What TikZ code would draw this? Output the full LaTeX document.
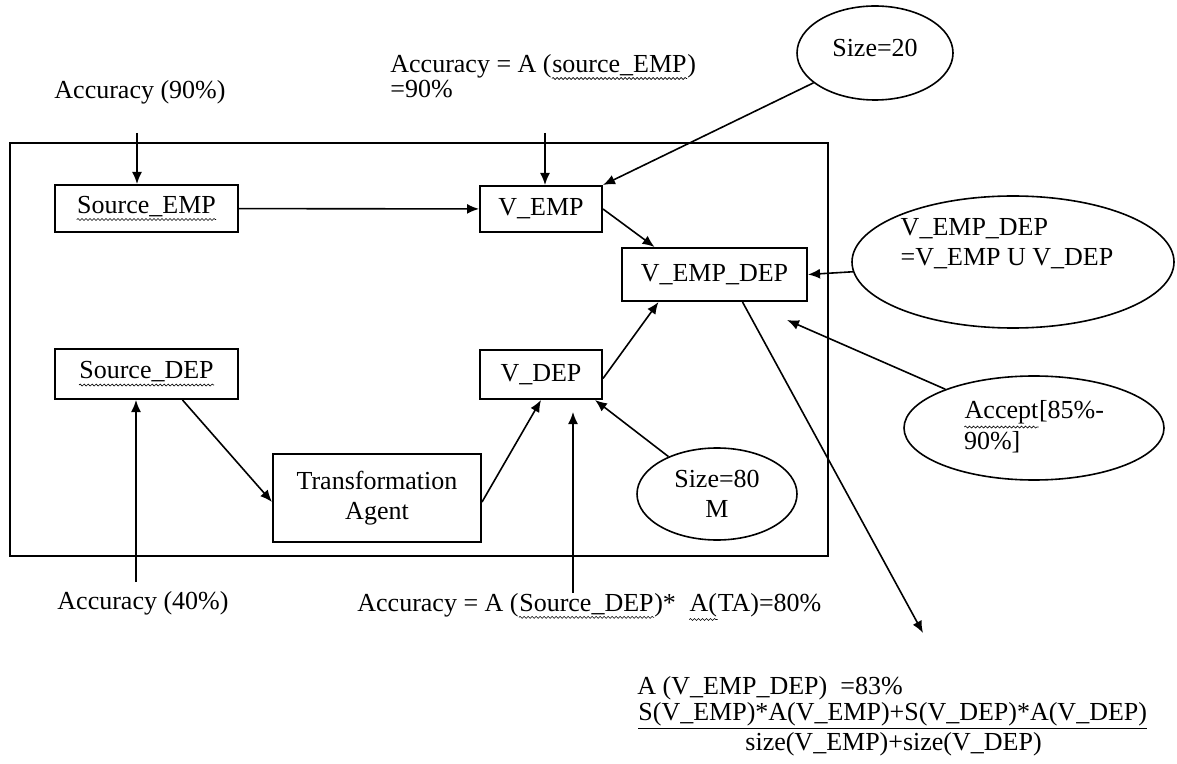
\documentclass[tikz,border=0pt]{standalone}
\usepackage{fontspec}
\setmainfont{Liberation Serif}
\usetikzlibrary{arrows.meta,shapes.geometric,decorations.pathmorphing}

\tikzset{
  txt/.style={inner sep=0pt, font=\fontsize{13}{15}\selectfont},
  box/.style={txt, draw, line width=1pt},
  oval/.style={txt, draw, ellipse, line width=0.8pt},
  arr/.style={-{Latex[length=6pt,width=5pt]}, line width=0.8pt},
}
% spell-check squiggle under a word
\newcommand\squig[1]{\tikz[baseline=(sq.base)]{\node[inner sep=0pt, shape=rectangle, draw=none,
    minimum width=0pt, minimum height=0pt] (sq) {#1};
  \draw[decorate, decoration={snake, amplitude=0.5pt, segment length=2pt}, line width=0.3pt]
    ([yshift=-1.2pt]sq.south west) -- ([yshift=-1.2pt]sq.south east);}}

\begin{document}
\begin{tikzpicture}[x=0.5pt, y=-0.5pt]
    \useasboundingbox (0,0) rectangle (1177,764);

    % Frame
    \draw[line width=1pt] (10,143) rectangle (828,556);

    % Boxes
    \node[box, minimum width=91.5pt, minimum height=23.5pt] (srcemp) at (146.5,208.5) {\squig{Source\_EMP}};
    \node[box, minimum width=61pt, minimum height=23pt] (vemp) at (541,209) {V\_EMP};
    \node[box, minimum width=92.5pt, minimum height=26.5pt] (vempdep) at (714.5,274.5) {V\_EMP\_DEP};
    \node[box, minimum width=91.5pt, minimum height=25pt] (srcdep) at (146.5,374) {\squig{Source\_DEP}};
    \node[box, minimum width=61pt, minimum height=24.5pt] (vdep) at (541,374.5) {V\_DEP};
    \node[box, minimum width=104pt, minimum height=44pt, align=center] (agent) at (377,498) {Transformation\\Agent};

    % Ovals
    \node[oval, minimum width=78pt, minimum height=47pt] (size20) at (875,53) {\raisebox{5pt}{Size=20}};
    \node[oval, minimum width=161pt, minimum height=66pt,
          label={[txt, align=left, xshift=-3pt, yshift=9pt]center:{V\_EMP\_DEP\\=V\_EMP U V\_DEP}}] (unioneq) at (1013,262) {};
    \node[oval, minimum width=80pt, minimum height=46pt, align=center] (size80) at (717,494) {Size=80\\M};
    \node[oval, minimum width=130pt, minimum height=52pt] (accept) at (1034,428)
        {\raisebox{2pt}{\begin{tabular}{@{}l@{}}\squig{Accept}[85\%-\\90\%]\end{tabular}}};

    % Labels
    \node[txt] (acc90) at (140,92) {Accuracy (90\%)};
    \node[txt, anchor=west, align=left, font=\fontsize{13}{12.5}\selectfont] (accemp) at (390,76)
        {Accuracy = A (\squig{source\_EMP})\\=90\%};
    \node[txt] (acc40) at (143,603) {Accuracy (40\%)};
    \node[txt, anchor=west] (accta) at (357,607) {Accuracy = A (\squig{Source\_DEP})*\ \ \squig{A(}TA)=80\%};
    \node[txt, anchor=west] (resa) at (637,688) {A (V\_EMP\_DEP) \ =83\%};
    \node[txt, anchor=west] (resnum) at (638,716) {\underline{S(V\_EMP)*A(V\_EMP)+S(V\_DEP)*A(V\_DEP)}};
    \node[txt, anchor=west] (resden) at (745,744) {size(V\_EMP)+size(V\_DEP)};

    % Free ends
    \coordinate (a90) at (137,133);
    \coordinate (aemp) at (545,133);
    \coordinate (a40) at (136,582);
    \coordinate (ata) at (573,412);
    \coordinate (accepttip) at (787,320);
    \coordinate (restip) at (923,633);

    % Arrows
    \draw[arr] (a90) -- (srcemp.north -| a90);
    \draw[arr] (aemp) -- (vemp.north -| aemp);
    \draw[arr] (srcemp) -- (vemp);
    \draw[arr] (size20) -- (vemp.north east);
    \draw[arr] (vemp.east) -- ([xshift=-30pt]vempdep.north);
    \draw[arr] (unioneq) -- (vempdep.east);
    \draw[arr] (a40) -- (srcdep.south -| a40);
    \draw[arr] ([xshift=18pt]srcdep.south) -- ([yshift=-2pt]agent.west);
    \draw[arr] ([yshift=-2pt]agent.east) -- (vdep.south);
    \draw[arr] (accta.north -| ata) -- (ata);
    \draw[arr] (size80) -- ([xshift=-4pt]vdep.south east);
    \draw[arr] ([yshift=-2pt]vdep.east) -- ([xshift=-28pt]vempdep.south);
    \draw[arr] (accept) -- (accepttip);
    \draw[arr] ([xshift=14pt]vempdep.south) -- (restip);
\end{tikzpicture}
\end{document}
